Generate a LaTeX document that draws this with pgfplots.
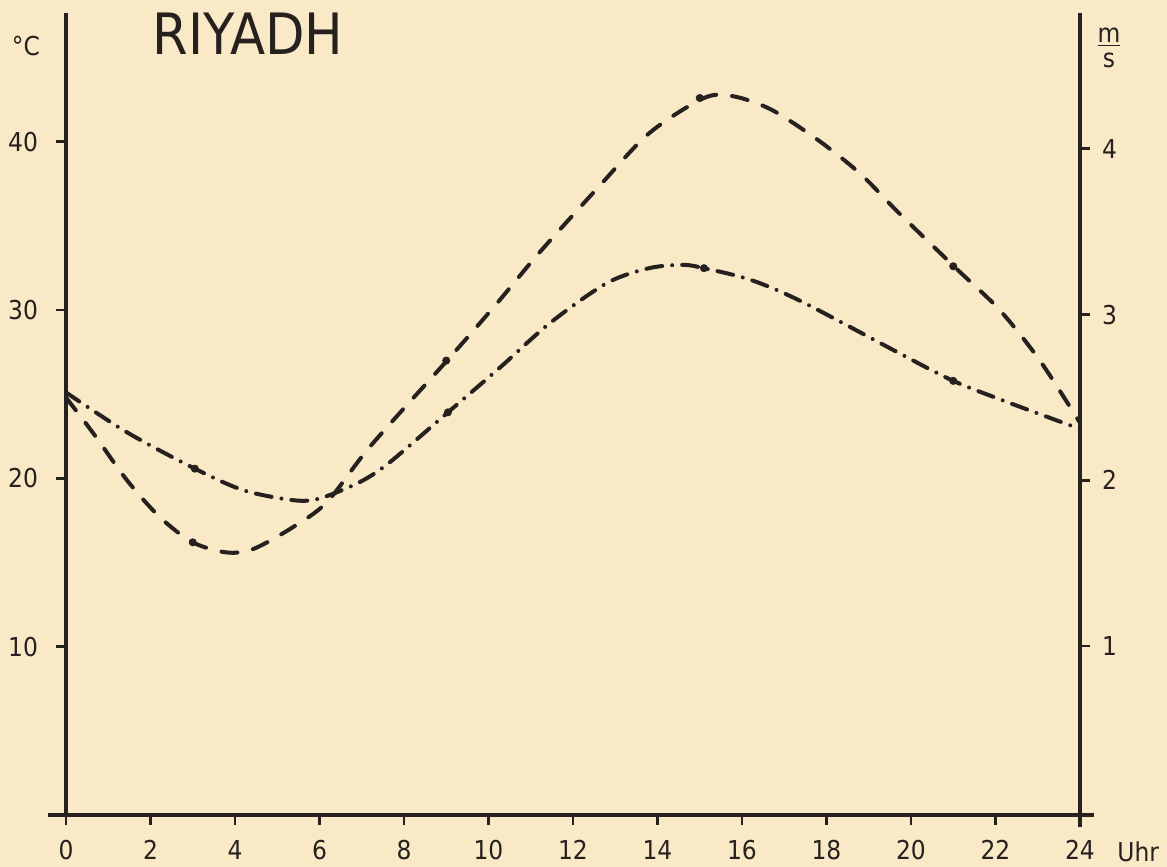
\documentclass[border=0pt]{standalone}
\usepackage{pgfplots}
\pgfplotsset{compat=1.18}
\usepackage{fontspec}
\setmainfont{DejaVu Sans Condensed}
\definecolor{paper}{RGB}{249,233,199}
\definecolor{ink}{RGB}{38,33,30}
\begin{document}
\begin{tikzpicture}[font=\fontsize{13}{15}\selectfont]
\path[fill=paper, use as bounding box] (-33pt,-26pt) rectangle (550.5pt,407.5pt);
\begin{axis}[
  at={(0,0)}, anchor=south west, scale only axis, width=507pt, height=401pt,
  xmin=0, xmax=24, ymin=0, ymax=47.65,
  axis x line*=bottom, axis y line*=left,
  axis line style={ink, line width=1.7pt, -},
  x axis line style={shorten <=-9pt, shorten >=-7pt},
  xtick={0,2,...,24}, ytick={10,20,30,40},
  tick align=outside, major tick length=5pt,
  tick style={ink, line width=1.4pt},
  /pgf/number format/assume math mode=true,
  ticklabel style={text=ink, font=\fontsize{13}{15}\selectfont},
  yticklabel style={xshift=-5.5pt},
  xticklabel style={yshift=-4pt},
  clip=false,
]
\addplot[ink, line width=2pt, line cap=round, dash pattern=on 8pt off 8pt, smooth, tension=0.5] coordinates {
(0,24.8)(0.64,22.7)(1.44,19.9)(2.22,17.7)(3.0,16.2)(3.8,15.6)(4.43,15.8)(5.37,17.1)(6.18,18.6)(7.2,21.9)(9.09,27.2)(10.2,30.4)(11.2,33.4)(12.6,37.3)(13.8,40.5)(15.1,42.6)(15.8,42.7)(16.7,41.9)(17.8,40.1)(18.8,38.1)(19.7,35.8)(21.1,32.4)(22.1,30.0)(23.05,27.0)(24,23.3)};
\addplot[only marks, mark=*, mark size=1.8pt, ink] coordinates {(3,16.2)(9,27.0)(15,42.6)(21,32.6)};
\end{axis}
\begin{axis}[
  at={(0,0)}, anchor=south west, scale only axis, width=507pt, height=401pt,
  xmin=0, xmax=24, ymin=-0.02, ymax=4.82,
  axis x line=none, axis y line*=right,
  axis line style={ink, line width=1.7pt, -},
  y axis line style={shorten <=-6pt},
  ytick={1,2,3,4},
  tick align=outside, major tick length=5pt,
  tick style={ink, line width=1.4pt},
  /pgf/number format/assume math mode=true,
  ticklabel style={text=ink, font=\fontsize{13}{15}\selectfont},
  yticklabel style={xshift=2.5pt},
  clip=false,
]
\addplot[ink, line width=2pt, line cap=round, dash pattern=on 8pt off 5pt on 0pt off 5pt, smooth, tension=0.5] coordinates {
(0,2.53)(1.44,2.29)(3.05,2.07)(4.2,1.94)(5.37,1.88)(6.0,1.89)(6.96,1.99)(7.67,2.11)(9.04,2.41)(10.27,2.68)(11.46,2.95)(12.8,3.19)(13.8,3.28)(14.6,3.30)(15.1,3.28)(16.2,3.21)(17.4,3.08)(19.7,2.77)(21.0,2.60)(22.3,2.47)(24,2.31)};
\addplot[only marks, mark=*, mark size=1.8pt, ink] coordinates {(3.05,2.07)(9.04,2.41)(15.1,3.28)(21.0,2.60)};
\end{axis}
\node[anchor=base west, text=ink, font=\fontsize{28.5}{30}\selectfont, inner sep=0pt] at (43pt,380pt) {RIYADH};
\node[anchor=base, text=ink, inner sep=0pt] at (-20pt,379.5pt) {°C};
\node[anchor=center, text=ink, inner sep=0pt] at (521.5pt,383.5pt) {\shortstack{\underline{m}\\s}};
\node[anchor=base west, text=ink, inner sep=0pt] at (525.5pt,-23pt) {Uhr};
\end{tikzpicture}
\end{document}
